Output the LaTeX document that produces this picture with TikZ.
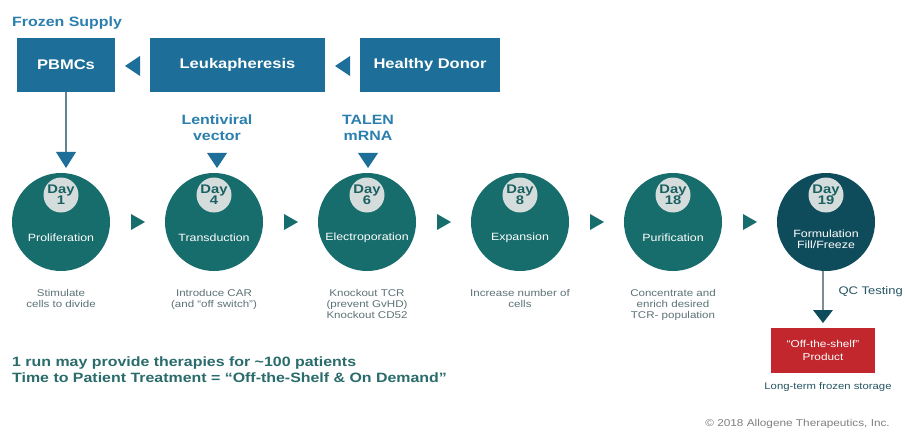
\documentclass[tikz,border=0pt]{standalone}
\usepackage{fontspec}
\setmainfont[FakeStretch=1.18]{Liberation Sans}
\usetikzlibrary{calc}
\definecolor{boxblue}{HTML}{1D6E98}
\definecolor{titleblue}{HTML}{2B7FAE}
\definecolor{tealc}{HTML}{176D6C}
\definecolor{darkteal}{HTML}{0E4B5B}
\definecolor{innergray}{HTML}{D5DCDC}
\definecolor{daytext}{HTML}{1A6060}
\definecolor{descgray}{HTML}{5D7276}
\definecolor{bottomtext}{HTML}{2A6B6B}
\definecolor{redbox}{HTML}{C1272D}
\definecolor{linegray}{HTML}{7F8C90}
\newcommand{\fs}[2]{\fontsize{#1}{#2}\selectfont}
\tikzset{
  topbox/.style={fill=boxblue, text=white, font=\bfseries\fs{14}{16}, minimum height=54pt, inner sep=0pt},
  stepcircle/.style={circle, fill=tealc, minimum size=98pt, inner sep=0pt},
  daycircle/.style={circle, fill=innergray, minimum size=35pt, inner sep=0pt, text=daytext, font=\bfseries\fs{12.5}{12}, align=center},
  steplabel/.style={text=white, font=\fs{10.5}{11}, align=center},
  desc/.style={text=descgray, font=\fs{9.8}{11}, align=center, anchor=north},
  inputlabel/.style={text=titleblue, font=\bfseries\fs{13.5}{16}, align=center},
  conn/.style={draw=linegray, line width=1.2pt},
}
\begin{document}
\begin{tikzpicture}[x=1pt,y=-1pt]
\useasboundingbox[fill=white] (0,0) rectangle (905,433);

% top row
\node[anchor=base west, text=titleblue, font=\bfseries\fs{13.5}{16}, inner sep=0pt] (frozen) at (12,27) {Frozen Supply};
\node[topbox, minimum width=98pt] (pbmc) at (66,65) {PBMCs};
\node[topbox, minimum width=175pt] (leuk) at (237.5,65) {Leukapheresis};
\node[topbox, minimum width=140pt] (donor) at (430,65) {Healthy Donor};
\fill[boxblue] (125,66) -- (140,56) -- (140,76) -- cycle;
\fill[boxblue] (335,66) -- (350,56) -- (350,76) -- cycle;

% circles
\foreach \i/\cx/\d/\col in {1/61/1/tealc, 2/214/4/tealc, 3/367/6/tealc, 4/520/8/tealc, 5/673/18/tealc, 6/826/19/darkteal}{
  \node[stepcircle, fill=\col] (c\i) at (\cx,222) {};
  \node[daycircle] (d\i) at (\cx,195) {Day\\[-1pt]\d};
}
\node[steplabel] (l1) at (61,238) {Proliferation};
\node[steplabel] (l2) at (214,238) {Transduction};
\node[steplabel] (l3) at (367,238) {Electroporation};
\node[steplabel] (l4) at (520,238) {Expansion};
\node[steplabel] (l5) at (673,238) {Purification};
\node[steplabel] (l6) at (826,239) {Formulation\\Fill/Freeze};

% right triangles between circles
\foreach \m in {138,291,444,597,750}{
  \fill[tealc] (\m-7,214) -- (\m+7,222) -- (\m-7,230) -- cycle;
}

% input from PBMCs
\coordinate (t1top) at (66,152);
\draw[draw=linegray!70!boxblue, line width=1.2pt] (pbmc.south) -- (t1top);
\fill[boxblue] (56,152) -- (76,152) -- (66,168) -- cycle;

% lentiviral, TALEN
\node[inputlabel] (lenti) at (217,128) {Lentiviral\\vector};
\fill[boxblue] (207,153) -- (227,153) -- (217,168) -- cycle;
\node[inputlabel] (talen) at (368,128) {TALEN\\mRNA};
\fill[boxblue] (358,153) -- (378,153) -- (368,168) -- cycle;

% descriptions
\node[desc] (s1) at (61,286) {Stimulate\\cells to divide};
\node[desc] (s2) at (214,286) {Introduce CAR\\(and “off switch”)};
\node[desc] (s3) at (367,286) {Knockout TCR\\(prevent GvHD)\\Knockout CD52};
\node[desc] (s4) at (520,286) {Increase number of\\cells};
\node[desc] (s5) at (673,286) {Concentrate and\\enrich desired\\TCR- population};

% QC
\coordinate (qcend) at (823,310);
\draw[conn] (c6.south -| qcend) -- (qcend);
\fill[darkteal] (813,310) -- (833,310) -- (823,323) -- cycle;
\node[anchor=west, text=darkteal!80!gray, font=\fs{11}{12}] (qc) at (835,292) {QC Testing};
\node[fill=redbox, minimum width=104pt, minimum height=45pt, inner sep=0pt, text=white, font=\fs{10}{13}, align=center] (prod) at (823,350.5) {“Off-the-shelf”\\Product};
\node[text=darkteal!80!gray, font=\fs{9.6}{11}] (store) at (828,387) {Long-term frozen storage};

% bottom text
\node[anchor=north west, text=bottomtext, font=\bfseries\fs{13.5}{15.5}, align=left, inner sep=0pt] (note) at (12,357) {1 run may provide therapies for \textasciitilde100 patients\\Time to Patient Treatment = “Off-the-Shelf \& On Demand”};
\node[anchor=east, text=gray, font=\fs{10}{11}, inner sep=0pt] (copy) at (890,424) {© 2018 Allogene Therapeutics, Inc.};
\end{tikzpicture}
\end{document}
